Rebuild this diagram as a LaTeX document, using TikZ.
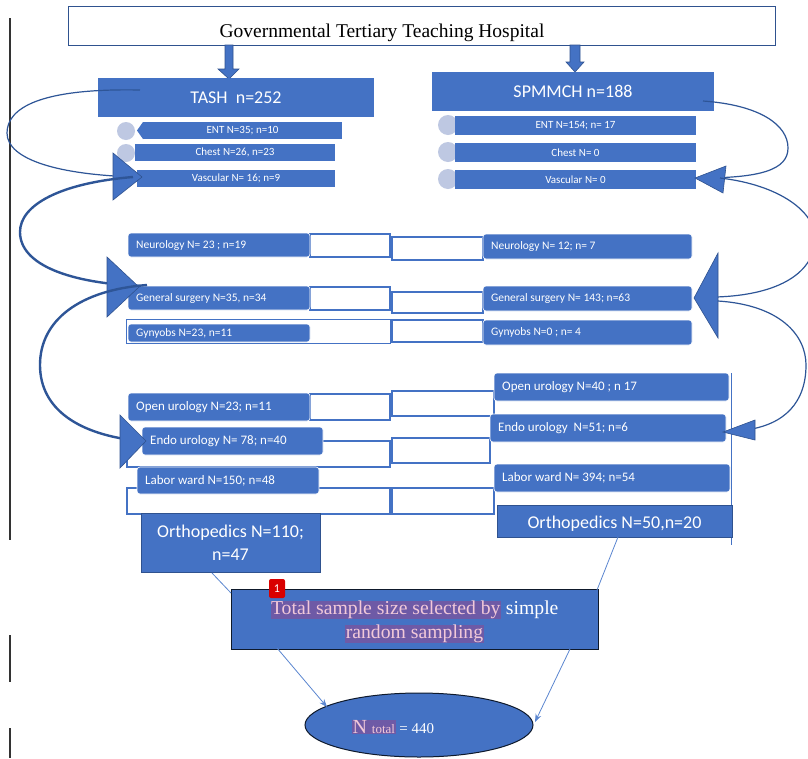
\documentclass[tikz,border=0pt]{standalone}
\usepackage{fontspec}
\setmainfont{Liberation Serif}
\newfontfamily\calfont{Carlito}
\usetikzlibrary{arrows.meta,shapes.geometric}
\definecolor{bl}{HTML}{4472C4}
\definecolor{dbl}{HTML}{2F528F}
\definecolor{cv}{HTML}{2E5597}
\definecolor{cir}{HTML}{BEC8E2}
\definecolor{hl}{HTML}{6E5AA6}
\definecolor{hltx}{HTML}{F2C9D9}
\definecolor{ln}{HTML}{5B86D0}
\newcommand\bx[7]{\node[#6, minimum width={#4-#2}, minimum height={#5-#3}] (#1) at ({(#2+#4)/2},{(#3+#5)/2}) {#7};}
\newcommand\lbx[8]{\node[#6, minimum width={#4-#2}, minimum height={#5-#3}] (#1) at ({(#2+#4)/2},{(#3+#5)/2}) {};
  \node[#7, anchor=west] (#1t) at ({#2+8},{(#3+#5)/2}) {#8};}
\begin{document}
\begin{tikzpicture}[x=1pt,y=-1pt,
  bar/.style={fill=bl, draw=none, text=white, inner sep=0pt, font=\calfont\fontsize{11}{12}\selectfont},
  rbar/.style={fill=bl, draw=white, line width=0.6pt, rounded corners=3pt, inner sep=0pt},
  lblm/.style={text=white, inner sep=0pt, font=\calfont\fontsize{11.5}{12}\selectfont},
  lbll/.style={text=white, inner sep=0pt, font=\calfont\fontsize{13}{14}\selectfont},
  big/.style={fill=bl, draw=dbl, line width=0.8pt, text=white, inner sep=0pt, align=center, font=\calfont\fontsize{18}{23}\selectfont},
  conn/.style={draw=bl, line width=1.1pt},
  crv/.style={draw=cv, line width=1.2pt},
  crvb/.style={draw=cv, line width=2.4pt},
  head/.style={fill=bl, draw=dbl, line width=0.6pt},
  circ/.style={circle, fill=cir, draw=none, inner sep=0pt},
  thin/.style={draw=ln, line width=0.8pt},
]
\useasboundingbox (0,0) rectangle (808,758);
\fill[white] (0,0) rectangle (808,758);

% left margin rules
\draw[black!80, line width=1.2pt] (10,18) -- (10,540) (10,635) -- (10,682) (10,728) -- (10,758);

% title
\bx{top}{68}{6}{775}{45}{draw=dbl, line width=1pt, fill=white, inner sep=0pt}{}
\node[font=\fontsize{19.5}{20}\selectfont, inner sep=0pt] (toptext) at (382,33) {Governmental Tertiary Teaching Hospital};

% block arrows
\filldraw[head] (225,45) -- (233,45) -- (233,69) -- (239,69) -- (229,79) -- (218,69) -- (225,69) -- cycle;
\filldraw[head] (570,45) -- (580,45) -- (580,62) -- (584,62) -- (575,72) -- (566,62) -- (570,62) -- cycle;

% hospital boxes
\bx{tash}{98}{78}{374}{117}{big, draw=none}{TASH\ \ n=252}
\bx{spm}{432}{72}{714}{111}{big, draw=none}{SPMMCH n=188}

% circles
\node[circ, minimum size=18] (c1) at (126,131) {};
\node[circ, minimum size=18] (c2) at (126,153) {};
\node[circ, minimum size=20] (c3) at (448,125) {};
\node[circ, minimum size=20] (c4) at (448,152) {};
\node[circ, minimum size=20] (c5) at (448,179) {};

% small bars left
\fill[bl] (143,122) -- (137,130.5) -- (143,139) -- cycle;
\bx{entL}{143}{122}{342}{139}{bar}{ENT N=35; n=10}
\bx{chestL}{135}{144}{335}{161}{bar}{Chest N=26, n=23}
\bx{vascL}{137}{170}{335}{187}{bar}{Vascular N= 16; n=9}
% small bars right
\bx{entR}{455}{116}{696}{135}{bar}{ENT N=154; n= 17}
\bx{chestR}{455}{143}{696}{162}{bar}{Chest N= 0}
\bx{vascR}{455}{170}{696}{189}{bar}{Vascular N= 0}

% connector frames, middle block
\draw[conn] (310,234) rectangle (390,257);
\draw[conn] (392,237) rectangle (483,260);
\draw[conn] (310,287) rectangle (390,310);
\draw[conn] (392,292) rectangle (483,313);
\draw[conn, line width=0.8pt] (126,319) rectangle (390,343);
\draw[conn] (392,320) rectangle (483,342);

% middle block boxes
\lbx{neuL}{128}{233}{310}{257}{rbar}{lblm}{Neurology N= 23 ; n=19}
\lbx{genL}{128}{286}{310}{310}{rbar}{lblm}{General surgery N=35, n=34}
\lbx{gynL}{128}{324}{310}{342}{rbar}{lblm}{Gynyobs N=23, n=11}
\lbx{neuR}{483}{234}{692}{259}{rbar}{lblm}{Neurology N= 12; n= 7}
\lbx{genR}{483}{286}{692}{311}{rbar}{lblm}{General surgery N= 143; n=63}
\lbx{gynR}{483}{320}{692}{345}{rbar}{lblm}{Gynyobs N=0 ; n= 4}

% connector frames, lower block
\draw[conn] (310,394) rectangle (390,420);
\draw[conn] (392,391) rectangle (494,416);
\draw[conn] (127,441) rectangle (390,467);
\draw[conn] (392,438) rectangle (490,463);
\draw[conn] (127,488) rectangle (390,514);
\draw[conn] (392,488) rectangle (494,514);
\draw[conn, line width=0.8pt] (731,373) -- (731,545);

% lower block boxes
\lbx{openL}{128}{393}{310}{421}{rbar}{lbll}{Open urology N=23; n=11}
\lbx{endoL}{142}{427}{323}{455}{rbar}{lbll}{Endo urology N= 78; n=40}
\lbx{labL}{137}{467}{319}{494}{rbar}{lbll}{Labor ward N=150; n=48}
\lbx{openR}{494}{373}{729}{401}{rbar}{lbll}{Open urology N=40 ; n 17}
\lbx{endoR}{490}{414}{726}{442}{rbar}{lbll}{Endo urology\ \ N=51; n=6}
\lbx{labR}{494}{464}{730}{492}{rbar}{lbll}{Labor ward N= 394; n=54}
\bx{ortL}{141}{513}{320}{572}{big}{Orthopedics N=110;\\ n=47}
\bx{ortR}{497}{505}{732}{537}{big, text depth=0pt}{\raisebox{-3pt}{Orthopedics N=50,n=20}}

% curved arrows, left
\coordinate (a1s) at (140,90);
\coordinate (a1e) at (137,177);
\draw[crv] (a1s) .. controls (40,88) and (7,108) .. (7,133) .. controls (7,160) and (60,175) .. (a1e);
\filldraw[head] (142,177) -- (113,153) -- (113,200) -- cycle;
\coordinate (a2s) at (133,177);
\coordinate (a2e) at (140,286);
\draw[crvb] (a2s) .. controls (60,183) and (20,205) .. (20,232) .. controls (20,265) and (70,283) .. (a2e);
\filldraw[head] (139,287) -- (107,257) -- (107,317) -- cycle;
\coordinate (a3s) at (147,285);
\coordinate (a3e) at (140,441);
\draw[crvb] (a3s) .. controls (80,290) and (40,320) .. (40,365) .. controls (40,410) and (80,435) .. (a3e);
\filldraw[head] (146,441) -- (120,415) -- (120,468) -- cycle;

% curved arrows, right
\coordinate (b1s) at (703,101);
\coordinate (b1e) at (700,178);
\draw[crv] (b1s) .. controls (760,105) and (788,125) .. (788,148) .. controls (788,170) and (760,178) .. (b1e);
\filldraw[head] (695,178) -- (726,166) -- (723,193) -- cycle;
\coordinate (b2s) at (720,178);
\coordinate (b2e) at (716,297);
\draw[crv] (b2s) .. controls (780,185) and (815,212) .. (815,238) .. controls (815,272) and (780,295) .. (b2e);
\filldraw[head] (694,298) -- (718,253) -- (718,338) -- cycle;
\coordinate (b3s) at (718,301);
\coordinate (b3e) at (745,430);
\draw[crv] (b3s) .. controls (780,305) and (806,335) .. (806,365) .. controls (806,402) and (785,425) .. (b3e);
\filldraw[head] (723,432) -- (755,420) -- (755,440) -- cycle;

% total box
\bx{tot}{231}{589}{598}{649}{fill=bl, draw=black!70!dbl, line width=1pt, inner sep=0pt}{}
\node[inner sep=0pt, align=center, text=white, font=\fontsize{19.7}{24}\selectfont] (tottext) at (414.5,622) {{\setlength\fboxsep{0.5pt}\colorbox{hl}{\textcolor{hltx}{Total sample size selected by}}} simple\\{\setlength\fboxsep{0.5pt}\colorbox{hl}{\textcolor{hltx}{random sampling}}}};
\node[fill=red!85!black, rounded corners=2pt, text=white, font=\calfont\fontsize{12}{12}\selectfont, minimum width=16, minimum height=19, inner sep=0pt] (badge) at (277,588.5) {1};

% lines into total box
\coordinate (oL) at (212,573);
\coordinate (tL) at (231,593);
\coordinate (oR) at (618,537);
\coordinate (tR) at (597,590);
\draw[thin] (oL) -- (tL);
\draw[thin] (oR) -- (tR);

% ellipse
\node[ellipse, fill=bl, draw=black!70!dbl, line width=1pt, minimum width=228, minimum height=64, inner sep=0pt] (nt) at (419,725) {};
\node[text=white, inner sep=0pt, font=\fontsize{15}{16}\selectfont] (ntt) at (393,727) {{\setlength\fboxsep{0.5pt}\colorbox{hl}{\textcolor{hltx}{\fontsize{20}{20}\selectfont N\ \fontsize{13}{14}\selectfont total}}} = 440};

% arrows to ellipse
\coordinate (t1) at (277,648);
\coordinate (e1) at (327,707);
\coordinate (t2) at (570,649);
\coordinate (e2) at (535,722);
\draw[thin, -{Stealth[length=8pt,width=6pt]}] (t1) -- (e1);
\draw[thin, -{Stealth[length=8pt,width=6pt]}] (t2) -- (e2);
\end{tikzpicture}
\end{document}
